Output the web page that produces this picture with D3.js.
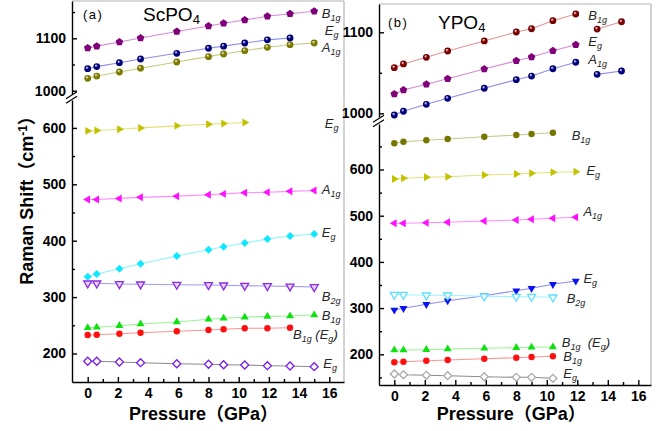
<!DOCTYPE html>
<html>
<head>
<meta charset="utf-8">
<script src="https://cdn.jsdelivr.net/npm/d3@7"></script>
<style>
  body { margin: 0; background: #fff; }
  text { font-family: "Liberation Sans", Arial, "Noto Sans CJK SC", sans-serif; }
</style>
</head>
<body>
<svg id="chart" width="666" height="431"></svg>
<script>
// pressure points (GPa)
const pressureA = [0, 0.6, 2.1, 3.5, 5.9, 8.0, 9.0, 10.4, 11.9, 13.4, 15.0];
const pressureB = [0, 0.6, 2.1, 3.5, 5.9, 8.0, 9.0, 10.4, 11.9];
const pressureBExtra = [13.3, 14.9];
const xTicks = [0, 2, 4, 6, 8, 10, 12, 14, 16];
const xMinorTicks = [1, 3, 5, 7, 9, 11, 13, 15];

// ScPO4 Raman modes (cm-1)
const scB1gHigh = [1081.5, 1085, 1093, 1100.6, 1113, 1123.5, 1128.6, 1135, 1142, 1147, 1151.5];
const scEgHigh = [1042, 1046, 1053.4, 1060.5, 1071.4, 1081, 1085, 1091, 1097, 1100.6];
const scA1gHigh = [1023.6, 1028, 1035.7, 1043, 1054.8, 1065, 1070, 1076.3, 1082.8, 1087.8, 1091];
const scEg600 = [594.7, 595.3, 597.7, 600, 603.6, 606.6, 607.8, 609.6];
const scA1g480 = [473, 473, 475, 476.9, 479, 481.6, 483, 485, 486, 487.5, 489];
const scEg340 = [336.2, 341, 350.4, 359.2, 372.9, 384, 389.4, 395.9, 403, 408.3, 411.9];
const scB2g = [324.5, 324.5, 323.2, 322.7, 322, 321.5, 320.9, 320.2, 319.7, 319.1, 317.9];
const scB1g250 = [245.7, 246.5, 249.3, 252.3, 255.9, 260.6, 262.4, 264.2, 265.9, 266.5, 268.3];
const scB1gEg = [232.8, 233.3, 235.1, 236.9, 239.4, 241.7, 242.9, 244.7, 244.7, 245.7];
const scEg180 = [186.2, 186.2, 184.9, 183.7, 181.9, 180.9, 180.1, 179.6, 178.4, 177.8, 176.6];

// YPO4 Raman modes (cm-1)
const yB1gHigh = [1056.3, 1060.9, 1069.1, 1076.9, 1089.3, 1100.4, 1104.4, 1114.3, 1122.6];
const yB1gHighExtra = [1104, 1113];
const yEgHigh = [1023.8, 1028.8, 1035.8, 1042.7, 1054.7, 1064.9, 1069.5, 1077.3, 1084.7];
const yA1gHigh = [997.9, 1002.5, 1011.1, 1018.5, 1030.9, 1041.5, 1046, 1055, 1063];
const yA1gHighExtra = [1048.1, 1052.2];
const yB1g660 = [656.7, 660.2, 663.2, 666, 671, 674.7, 676.8, 679.7];
const yEg580 = [579.4, 581, 583.1, 584.4, 588.1, 590.3, 591.8, 593.9, 595.2];
const yA1g485 = [483.5, 483.5, 484.8, 485.7, 488.5, 490.7, 492.2, 494.4, 496.5];
const yEg300 = [295.9, 299.6, 308.2, 316, 326.8, 337.7, 342.9, 351.5, 358.7];
const yB2g = [329, 329, 327.7, 327.7, 325.5, 324.7, 324.7, 323.4];
const yB1gEg = [209.3, 209.3, 210, 211.5, 213, 214.3, 215.2, 215.8];
const yB1g190 = [182.7, 184, 186.1, 187.7, 190.5, 192.6, 194.2, 195.7];
const yEg150 = [157.4, 155.8, 154.5, 153.7, 151.5, 150.2, 150.2, 148];

// y tick values
const lowMajor = [200, 300, 400, 500, 600];
const lowMinorA = [250, 350, 450, 550];
const lowMinorB = [150, 250, 350, 450, 550, 650];
const highMajor = [1000, 1100];
const highMinorA = [1050, 1150];
const highMinorB = [1050];

// mode labels: text, pressure, shift, segment
const labelsA = [
  ["B_{1g}", 15.5, 1138.7, "high"],
  ["E_{g}", 15.7, 1106.3, "high"],
  ["A_{1g}", 15.5, 1073.8, "high"],
  ["E_{g}", 15.7, 599.8, "low"],
  ["A_{1g}", 15.5, 482.8, "low"],
  ["E_{g}", 15.5, 406.6, "low"],
  ["B_{2g}", 15.5, 293, "low"],
  ["B_{1g}", 15.5, 259.4, "low"],
  ["B_{1g} (E_{g})", 13.6, 225.7, "low"],
  ["E_{g}", 15.6, 174.3, "low"]
];
const labelsB = [
  ["B_{1g}", 12.72, 1115.2, "high"],
  ["E_{g}", 12.72, 1083, "high"],
  ["A_{1g}", 12.72, 1060.9, "high"],
  ["B_{1g}", 11.63, 663.6, "low"],
  ["E_{g}", 12.6, 588.1, "low"],
  ["A_{1g}", 12.4, 499.4, "low"],
  ["E_{g}", 12.4, 354.3, "low"],
  ["B_{2g}", 11.3, 311, "low"],
  ["B_{1g}  (E_{g})", 10.98, 216.5, "low"],
  ["B_{1g}", 11.08, 185.2, "low"],
  ["E_{g}", 11.08, 148.2, "low"]
];

let svg = d3.select("#chart");
let defs = svg.append("defs");

function sphereGrad(id, color) {
  let g = defs.append("radialGradient").attr("id", id)
    .attr("cx", "50%").attr("cy", "50%").attr("r", "55%")
    .attr("fx", "35%").attr("fy", "30%");
  g.append("stop").attr("offset", "0%").attr("stop-color", "#ffffff");
  g.append("stop").attr("offset", "45%").attr("stop-color", color);
  g.append("stop").attr("offset", "100%").attr("stop-color", color);
}
sphereGrad("sphNavy", "#00007a");
sphereGrad("sphRed", "#7a0000");
sphereGrad("sphOlive", "#7a7a00");

let closedLine = d3.line().curve(d3.curveLinearClosed);
function polygon(n, r, startDeg) {
  let pts = d3.range(n).map(i => {
    let a = (startDeg + i * 360 / n) * Math.PI / 180;
    return [r * Math.cos(a), r * Math.sin(a)];
  });
  return closedLine(pts);
}
function markerPath(shape) {
  switch (shape) {
    case "pentagon": return polygon(5, 4, -90);
    case "triUp": return polygon(3, 4.6, -90);
    case "triDown": return polygon(3, 4.6, 90);
    case "triLeft": return polygon(3, 4.6, 180);
    case "triRight": return polygon(3, 4.6, 0);
    case "diamond": return polygon(4, 4, 0);
    case "sphere": return d3.symbol().type(d3.symbolCircle).size(Math.PI * 3.4 * 3.4)();
    default: return d3.symbol().type(d3.symbolCircle).size(Math.PI * 3.2 * 3.2)();
  }
}

// rich text with _{sub} and ^{sup}
function richText(sel, str, small) {
  let re = /([_^])\{([^}]*)\}/g, parts = [], last = 0, m;
  while ((m = re.exec(str)) !== null) {
    parts.push([str.slice(last, m.index), 0]);
    parts.push([m[2], m[1] === "_" ? 3 : -6]);
    last = re.lastIndex;
  }
  parts.push([str.slice(last), 0]);
  let cur = 0;
  parts.forEach(p => {
    if (!p[0]) return;
    let t = sel.append("tspan").text(p[0]);
    if (p[1] !== cur) t.attr("dy", p[1] - cur);
    if (p[1] !== 0) t.style("font-size", small + "px");
    cur = p[1];
  });
}

function segScale(d0, d1, r0, r1, e0, e1) {
  let s = d3.scaleLinear().domain([d0, d1]).range([r0, r1]);
  return d3.scaleLinear().domain([s.invert(e0), s.invert(e1)]).range([e0, e1]);
}

function drawPanel(p) {
  let g = svg.append("g");
  let xScale = segScale(0, 16, p.x0, p.x16, p.left, p.right);
  let yScales = {
    high: segScale(1000, 1100, p.high[0], p.high[1], p.highExt[0], p.highExt[1]),
    low: segScale(200, 600, p.low[0], p.low[1], p.lowExt[0], p.lowExt[1])
  };

  // light frame on top and right
  g.append("line").attr("x1", p.left).attr("x2", p.right).attr("y1", p.top).attr("y2", p.top)
    .style("stroke", "#b4b4b4").style("stroke-width", 1.2);
  g.append("line").attr("x1", p.right).attr("x2", p.right).attr("y1", p.top).attr("y2", p.bottom)
    .style("stroke", "#b4b4b4").style("stroke-width", 1.2);

  // x axis
  g.append("g").attr("transform", `translate(0,${p.bottom})`)
    .call(d3.axisBottom(xScale).tickValues(xTicks).tickSize(-5).tickSizeOuter(0).tickPadding(p.xPad));
  g.append("g").attr("transform", `translate(0,${p.bottom})`)
    .call(d3.axisBottom(xScale).tickValues(xMinorTicks).tickSize(-3).tickFormat(""))
    .call(a => a.select(".domain").remove());

  // y axes (two segments)
  [["high", highMajor, p.highMinor], ["low", lowMajor, p.lowMinor]].forEach(([seg, major, minor]) => {
    g.append("g").attr("transform", `translate(${p.left},0)`)
      .call(d3.axisLeft(yScales[seg]).tickValues(major).tickFormat(d3.format("d"))
        .tickSize(-5).tickSizeOuter(0).tickPadding(6));
    g.append("g").attr("transform", `translate(${p.left},0)`)
      .call(d3.axisLeft(yScales[seg]).tickValues(minor).tickSize(-3).tickFormat(""))
      .call(a => a.select(".domain").remove());
  });

  g.selectAll(".domain, .tick line").style("stroke", "#000").style("stroke-width", 1.4);
  g.selectAll(".tick text").style("font-size", "14px").style("font-weight", "bold").style("fill", "#000");

  // axis break marks
  let bm = (p.highExt[0] + p.lowExt[1]) / 2;
  [-2.2, 2.2].forEach(off => {
    g.append("line")
      .attr("x1", p.left - 6).attr("y1", bm + off + 4)
      .attr("x2", p.left + 5).attr("y2", bm + off - 3)
      .style("stroke", "#000").style("stroke-width", 1.2);
  });

  // series lines
  let line = d3.line();
  p.series.forEach(s => {
    let pts = s.x.map((x, i) => [xScale(x), yScales[s.seg](s.y[i])]);
    g.append("path").attr("d", line(pts))
      .style("fill", "none").style("stroke", s.line).style("stroke-width", 1.1);
  });
  // markers
  p.series.forEach(s => {
    g.selectAll(null)
      .data(s.x.map((x, i) => [x, s.y[i]]))
      .enter()
      .append("path")
        .attr("d", markerPath(s.shape))
        .attr("transform", d => `translate(${xScale(d[0])},${yScales[s.seg](d[1])})`)
        .style("fill", s.fill)
        .style("stroke", s.stroke || "none")
        .style("stroke-width", s.stroke ? 1.3 : 0);
  });

  // mode labels
  p.labels.forEach(l => {
    let t = g.append("text")
      .attr("x", xScale(l[1]))
      .attr("y", yScales[l[3]](l[2]))
      .style("font-style", "italic")
      .style("font-size", "13px")
      .style("fill", "#262626")
      .style("white-space", "pre");
    richText(t, l[0], 9);
  });

  // panel tag and compound
  g.append("text").attr("x", p.tagPos[0]).attr("y", p.tagPos[1])
    .style("font-size", "13px").style("letter-spacing", "1.5px").text(p.tag);
  let c = g.append("text").attr("x", p.namePos[0]).attr("y", p.namePos[1])
    .style("font-size", "19px");
  richText(c, p.name, 13);

  // x title
  g.append("text")
    .attr("x", xScale(8) - 5).attr("y", p.xTitleY)
    .style("text-anchor", "middle")
    .style("font-size", "18px").style("font-weight", "bold")
    .text("Pressure（GPa）");
}

drawPanel({
  left: 72, right: 344, top: 1, bottom: 382,
  x0: 87.7, x16: 329.3, xPad: 6, xTitleY: 420,
  high: [90.7, 38.3], highExt: [94, 1],
  low: [353.5, 127.9], lowExt: [382, 100],
  highMinor: highMinorA, lowMinor: lowMinorA,
  tag: "(a)", tagPos: [83, 19], name: "ScPO_{4}", namePos: [143, 21],
  labels: labelsA,
  series: [
    { x: pressureA, y: scB1gHigh, seg: "high", shape: "pentagon", fill: "#80007a", line: "#d58ad8" },
    { x: pressureA.slice(0, 10), y: scEgHigh, seg: "high", shape: "sphere", fill: "url(#sphNavy)", line: "#8c8cf0" },
    { x: pressureA, y: scA1gHigh, seg: "high", shape: "sphere", fill: "url(#sphOlive)", line: "#c8c87a" },
    { x: pressureA.slice(0, 8), y: scEg600, seg: "low", shape: "triRight", fill: "#c2c200", line: "#e2e27a" },
    { x: pressureA, y: scA1g480, seg: "low", shape: "triLeft", fill: "#ff10ff", line: "#ff8cff" },
    { x: pressureA, y: scEg340, seg: "low", shape: "diamond", fill: "#10e8ff", line: "#8cf4ff" },
    { x: pressureA, y: scB2g, seg: "low", shape: "triDown", fill: "#e6d4ff", stroke: "#8a2be2", line: "#9c9cf4" },
    { x: pressureA, y: scB1g250, seg: "low", shape: "triUp", fill: "#10e010", line: "#94f494" },
    { x: pressureA.slice(0, 10), y: scB1gEg, seg: "low", shape: "circle", fill: "#ff1010", line: "#ff9494" },
    { x: pressureA, y: scEg180, seg: "low", shape: "diamond", fill: "#ffffff", stroke: "#7a1ee6", line: "#8c8c8c" }
  ]
});

drawPanel({
  left: 379, right: 651, top: 4, bottom: 385,
  x0: 394.3, x16: 638.3, xPad: 6, xTitleY: 420,
  high: [113.3, 32.3], highExt: [117, 4],
  low: [354.3, 169.5], lowExt: [385, 124],
  highMinor: highMinorB, lowMinor: lowMinorB,
  tag: "(b)", tagPos: [388, 27], name: "YPO_{4}", namePos: [438, 29],
  labels: labelsB,
  series: [
    { x: pressureB, y: yB1gHigh, seg: "high", shape: "sphere", fill: "url(#sphRed)", line: "#e29494" },
    { x: pressureBExtra, y: yB1gHighExtra, seg: "high", shape: "sphere", fill: "url(#sphRed)", line: "#e29494" },
    { x: pressureB, y: yEgHigh, seg: "high", shape: "pentagon", fill: "#80007a", line: "#d58ad8" },
    { x: pressureB, y: yA1gHigh, seg: "high", shape: "sphere", fill: "url(#sphNavy)", line: "#8c8cf0" },
    { x: pressureBExtra, y: yA1gHighExtra, seg: "high", shape: "sphere", fill: "url(#sphNavy)", line: "#8c8cf0" },
    { x: pressureB.slice(0, 8), y: yB1g660, seg: "low", shape: "circle", fill: "#767600", line: "#c8c890" },
    { x: pressureB, y: yEg580, seg: "low", shape: "triRight", fill: "#c2c200", line: "#e2e27a" },
    { x: pressureB, y: yA1g485, seg: "low", shape: "triLeft", fill: "#ff10ff", line: "#ff8cff" },
    { x: pressureB, y: yEg300, seg: "low", shape: "triDown", fill: "#0a14f0", line: "#8c8cf4" },
    { x: pressureB.slice(0, 8), y: yB2g, seg: "low", shape: "triDown", fill: "#ffffff", stroke: "#5ee0ff", line: "#9cf4ff" },
    { x: pressureB.slice(0, 8), y: yB1gEg, seg: "low", shape: "triUp", fill: "#10e010", line: "#94f494" },
    { x: pressureB.slice(0, 8), y: yB1g190, seg: "low", shape: "circle", fill: "#ff1010", line: "#ff9494" },
    { x: pressureB.slice(0, 8), y: yEg150, seg: "low", shape: "diamond", fill: "#ffffff", stroke: "#aaaaaa", line: "#8c8c8c" }
  ]
});

// y title (shared, on the left)
let yt = svg.append("text")
  .attr("transform", "translate(33,196) rotate(-90)")
  .style("text-anchor", "middle")
  .style("font-size", "18px").style("font-weight", "bold");
richText(yt, "Raman Shift（cm^{-1}）", 12);
</script>
</body>
</html>
